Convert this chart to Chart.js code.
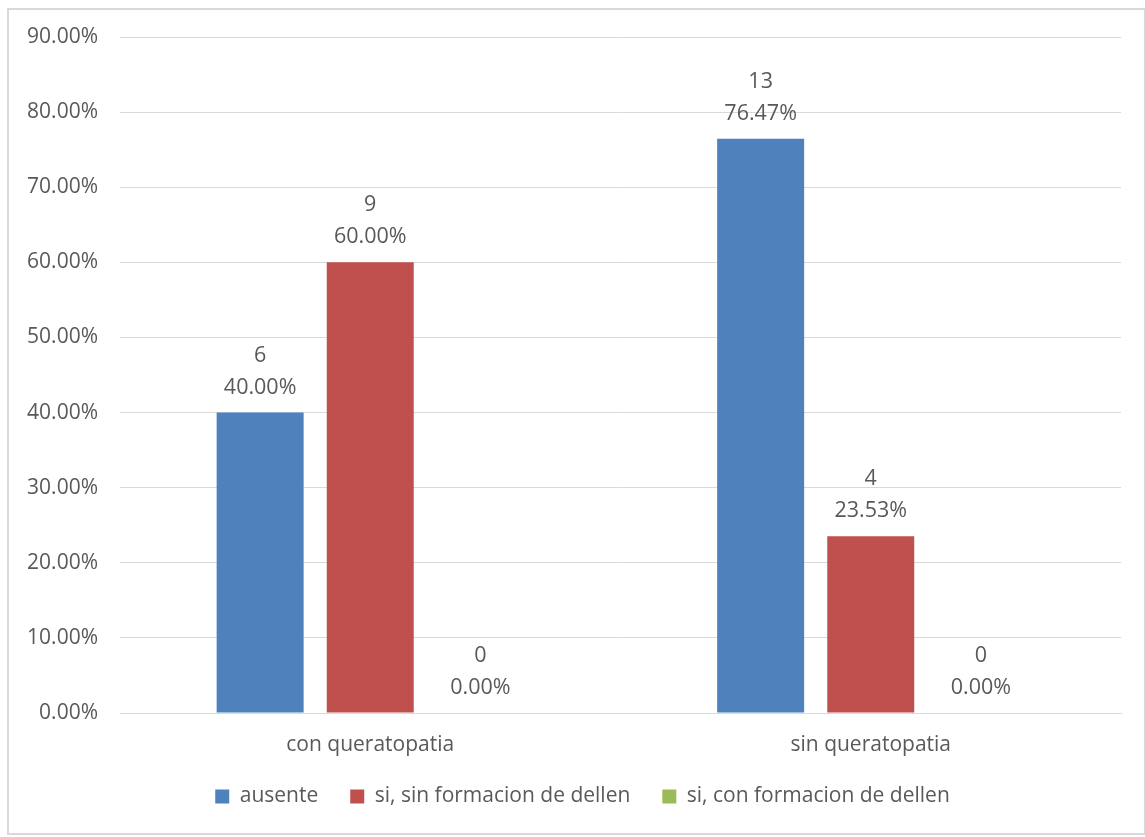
<!DOCTYPE html>
<html>
<head>
<meta charset="utf-8">
<script src="https://cdn.jsdelivr.net/npm/chart.js@4/dist/chart.umd.min.js"></script>
<style>
  html, body { margin: 0; padding: 0; background: #ffffff; }
  #wrap { width: 1145px; height: 837px; position: relative; }
</style>
</head>
<body>
<div id="wrap"><canvas id="chart" width="1145" height="837"></canvas></div>
<script>
// Categories and series
const categories = ['con queratopatia', 'sin queratopatia'];
const seriesNames = ['ausente', 'si, sin formacion de dellen', 'si, con formacion de dellen'];
const ausentePct = [40.00, 76.47];
const sinDellenPct = [60.00, 23.53];
const conDellenPct = [0.00, 0.00];
const ausenteCount = [6, 13];
const sinDellenCount = [9, 4];
const conDellenCount = [0, 0];
const yTicks = [0, 10, 20, 30, 40, 50, 60, 70, 80, 90];

const colors = ['#4F81BD', '#C0504D', '#9BBB59'];
const textColor = '#595959';
const gridColor = '#D9D9D9';
const fontFamily = "'Open Sans', 'Liberation Sans', sans-serif";

const pctSeries = [ausentePct, sinDellenPct, conDellenPct];
const countSeries = [ausenteCount, sinDellenCount, conDellenCount];

// Two-line value labels (count over percentage) above each bar
const barLabels = {
  id: 'barLabels',
  afterDatasetsDraw(chart) {
    const ctx = chart.ctx;
    ctx.save();
    ctx.font = '21.5px ' + fontFamily;
    ctx.fillStyle = textColor;
    ctx.textAlign = 'center';
    ctx.textBaseline = 'middle';
    chart.data.datasets.forEach((ds, di) => {
      const meta = chart.getDatasetMeta(di);
      meta.data.forEach((el, i) => {
        const v = ds.data[i];
        ctx.fillText(String(countSeries[di][i]), el.x, el.y - 57);
        ctx.fillText(v.toFixed(2) + '%', el.x, el.y - 25);
      });
    });
    ctx.restore();
  }
};

// Legend row placement under the category labels, centred under the plot
const legendRow = {
  id: 'legendRow',
  afterLayout(chart) {
    const lg = chart.legend;
    if (!lg) return;
    const h = lg.height;
    lg.top = 754;
    lg.bottom = 754 + h;
    lg.left += 18;
    lg.right += 18;
  }
};

// Light outline around the whole chart
const frame = {
  id: 'frame',
  afterDraw(chart) {
    const ctx = chart.ctx;
    ctx.save();
    ctx.strokeStyle = gridColor;
    ctx.lineWidth = 2;
    ctx.strokeRect(8, 9, 1145 - 8, 837 - 9 - 3);
    ctx.restore();
  }
};

new Chart(document.getElementById('chart'), {
  type: 'bar',
  data: {
    labels: categories,
    datasets: seriesNames.map((name, i) => ({
      label: name,
      data: pctSeries[i],
      backgroundColor: colors[i],
      borderWidth: 0,
      categoryPercentage: 0.66,
      barPercentage: 0.79
    }))
  },
  options: {
    responsive: false,
    animation: false,
    layout: { padding: { top: 37, right: 24, bottom: 11, left: 8 } },
    plugins: {
      legend: {
        position: 'bottom',
        labels: {
          boxWidth: 14,
          boxHeight: 14,
          padding: 32,
          color: textColor,
          font: { family: fontFamily, size: 21 }
        }
      },
      tooltip: { enabled: false }
    },
    scales: {
      x: {
        grid: { display: false, drawTicks: false },
        border: { display: true, color: gridColor, width: 1 },
        ticks: { color: textColor, padding: 19, font: { family: fontFamily, size: 21 } },
        afterFit(scale) { scale.height = 50; }
      },
      y: {
        min: 0,
        max: 90,
        afterBuildTicks(scale) { scale.ticks = yTicks.map(v => ({ value: v })); },
        grid: { color: gridColor, drawTicks: false },
        border: { display: false },
        ticks: {
          color: textColor,
          padding: 22,
          font: { family: fontFamily, size: 21 },
          callback: v => Number(v).toFixed(2) + '%'
        },
        afterFit(scale) { scale.width = 112; }
      }
    }
  },
  plugins: [barLabels, legendRow, frame]
});
</script>
</body>
</html>
